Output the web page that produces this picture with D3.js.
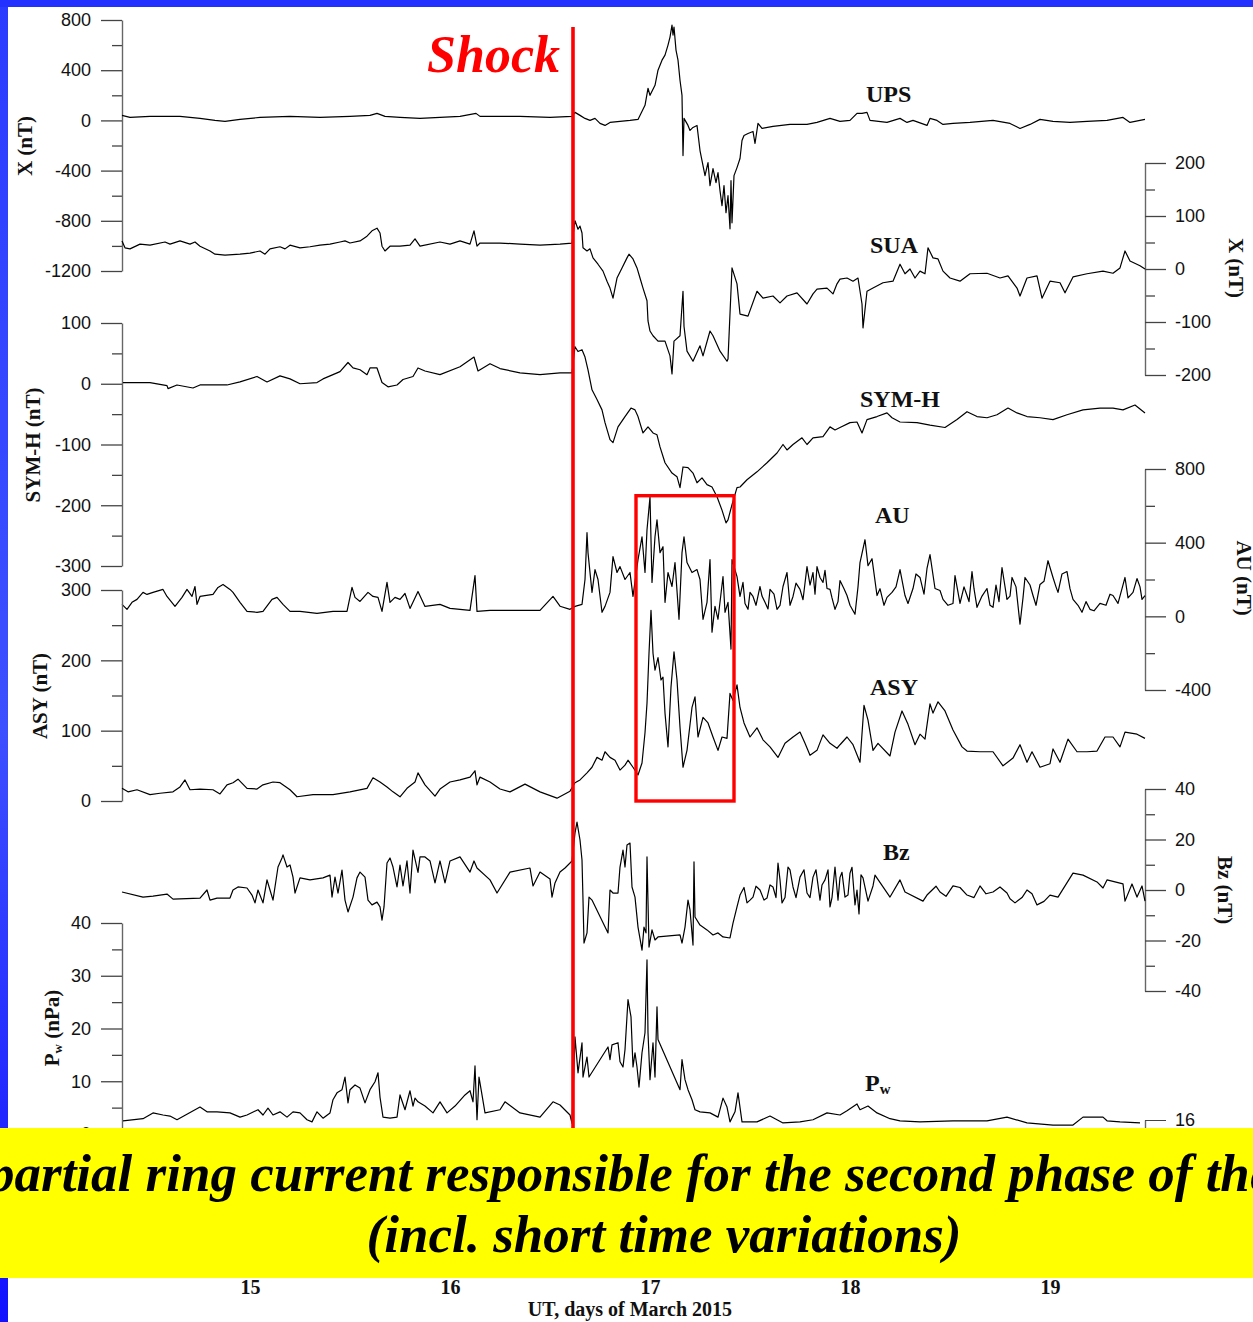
<!DOCTYPE html>
<html>
<head>
<meta charset="utf-8">
<script src="https://cdn.jsdelivr.net/npm/d3@7"></script>
<style>
  body { margin: 0; background: #fff; }
  svg { display: block; }
</style>
</head>
<body>
<svg id="chart" width="1253" height="1322"></svg>
<script>
// days of March 2015 shown on the x axis
const dayTicks = [15, 16, 17, 18, 19];
const shockDay = 16.615;
const boxDays = [16.93, 17.42];

// [day, X nT] ground station UPS
const upsX = [[14.36,40],[14.40,24],[14.50,32],[14.65,32],[14.75,16],[14.825,0],[14.875,-8],[14.95,8],[15.05,24],[15.20,32],[15.35,24],[15.50,32],[15.60,40],[15.635,56],[15.675,32],[15.75,24],[15.85,16],[15.95,24],[16.05,32],[16.13,56],[16.15,32],[16.35,32],[16.50,24],[16.61,32],
  [16.625,64],[16.65,40],[16.675,16],[16.70,0],[16.725,16],[16.75,-24],[16.775,-40],[16.80,-16],[16.85,-8],[16.90,0],[16.94,8],[16.975,120],[16.99,256],[17.00,200],[17.025,280],[17.04,400],[17.06,480],[17.075,520],[17.09,600],[17.10,664],[17.11,760],[17.115,680],[17.12,744],[17.13,560],[17.14,480],[17.15,320],[17.16,200],[17.165,-280],[17.17,16],[17.19,-40],[17.20,-80],[17.215,-56],[17.235,-40],[17.25,-240],[17.265,-360],[17.275,-440],[17.29,-336],[17.30,-520],[17.315,-384],[17.33,-496],[17.34,-416],[17.35,-560],[17.36,-680],[17.37,-520],[17.38,-736],[17.39,-600],[17.40,-864],[17.405,-480],[17.41,-816],[17.42,-440],[17.435,-376],[17.45,-304],[17.46,-160],[17.47,-120],[17.49,-104],[17.515,-88],[17.525,-184],[17.54,-24],[17.56,-64],[17.615,-48],[17.70,-32],[17.785,-32],[17.835,-16],[17.90,16],[17.95,-8],
  [18.00,0],[18.035,56],[18.06,56],[18.085,64],[18.10,0],[18.185,-16],[18.25,16],[18.285,-16],[18.315,0],[18.385,-40],[18.40,16],[18.435,0],[18.465,-32],[18.515,-24],[18.60,-16],[18.715,0],[18.80,-24],[18.85,-64],[18.90,-32],[18.95,8],[19.015,-8],[19.10,-16],[19.185,-8],[19.285,0],[19.365,24],[19.40,-16],[19.45,0],[19.475,8]];

// [day, X nT] ground station SUA (right axis)
const suaX = [[14.36,53],[14.375,40],[14.40,38],[14.45,47],[14.50,45],[14.575,51],[14.60,47],[14.65,53],[14.70,47],[14.725,51],[14.75,43],[14.80,34],[14.825,28],[14.875,26],[14.95,28],[15.00,30],[15.05,34],[15.075,28],[15.10,38],[15.15,42],[15.175,38],[15.20,45],[15.25,40],[15.30,42],[15.35,45],[15.40,47],[15.45,51],[15.475,53],[15.50,49],[15.55,53],[15.585,62],[15.61,72],[15.635,77],[15.65,68],[15.66,43],[15.675,34],[15.70,43],[15.75,43],[15.80,45],[15.825,57],[15.85,43],[15.95,51],[16.00,47],[16.05,53],[16.10,47],[16.12,72],[16.135,43],[16.15,49],[16.25,49],[16.35,47],[16.45,45],[16.55,47],[16.61,49],
  [16.625,91],[16.64,75],[16.65,81],[16.66,68],[16.665,40],[16.685,34],[16.70,38],[16.715,21],[16.74,9],[16.765,-4],[16.785,-23],[16.80,-36],[16.815,-55],[16.835,-17],[16.86,2],[16.885,21],[16.895,28],[16.915,19],[16.935,2],[16.95,-17],[16.965,-36],[16.985,-60],[16.99,-98],[17.00,-117],[17.015,-126],[17.04,-136],[17.075,-136],[17.10,-164],[17.11,-198],[17.12,-136],[17.15,-126],[17.165,-42],[17.17,-108],[17.185,-155],[17.215,-174],[17.25,-145],[17.265,-164],[17.30,-117],[17.315,-126],[17.35,-155],[17.385,-174],[17.39,-170],[17.41,2],[17.435,-28],[17.45,-85],[17.49,-89],[17.535,-42],[17.565,-55],[17.615,-51],[17.65,-64],[17.685,-51],[17.735,-45],[17.785,-66],[17.815,-47],[17.835,-38],[17.885,-36],[17.915,-47],[17.935,-28],[17.95,-19],[17.985,-17],
  [18.015,-23],[18.04,-17],[18.06,-66],[18.065,-111],[18.085,-42],[18.115,-36],[18.165,-26],[18.215,-23],[18.25,9],[18.275,-9],[18.30,0],[18.325,-17],[18.35,-4],[18.375,-9],[18.39,40],[18.415,21],[18.44,19],[18.465,-4],[18.50,-17],[18.55,-23],[18.60,-9],[18.685,-8],[18.75,-17],[18.79,-13],[18.835,-36],[18.85,-51],[18.885,-17],[18.935,-13],[18.96,-55],[19.00,-23],[19.05,-26],[19.075,-45],[19.115,-15],[19.185,-9],[19.265,-4],[19.315,-8],[19.35,2],[19.375,34],[19.40,15],[19.45,6],[19.475,0]];

// [day, SYM-H nT]
const symH = [[14.365,2],[14.50,2],[14.585,-3],[14.59,-8],[14.635,-2],[14.715,-7],[14.75,-2],[14.835,-2],[14.885,-2],[14.95,3],[15.035,12],[15.085,3],[15.15,13],[15.20,8],[15.25,0],[15.335,2],[15.365,8],[15.415,15],[15.45,20],[15.49,35],[15.515,26],[15.55,23],[15.585,15],[15.60,26],[15.635,26],[15.66,2],[15.69,-5],[15.735,-2],[15.765,7],[15.815,12],[15.84,26],[15.875,21],[15.95,15],[16.05,28],[16.12,44],[16.14,21],[16.20,33],[16.25,25],[16.35,18],[16.45,15],[16.55,18],[16.61,18],
  [16.625,61],[16.64,53],[16.66,56],[16.675,44],[16.69,23],[16.71,-10],[16.735,-26],[16.76,-43],[16.775,-64],[16.80,-92],[16.815,-97],[16.84,-71],[16.875,-54],[16.905,-40],[16.925,-43],[16.94,-54],[16.965,-81],[16.99,-71],[17.015,-81],[17.035,-84],[17.05,-104],[17.075,-130],[17.11,-147],[17.135,-153],[17.15,-171],[17.165,-137],[17.19,-138],[17.215,-147],[17.235,-163],[17.26,-155],[17.285,-166],[17.31,-170],[17.335,-186],[17.36,-208],[17.38,-229],[17.39,-224],[17.41,-199],[17.435,-171],[17.45,-170],[17.485,-158],[17.535,-145],[17.585,-130],[17.635,-114],[17.665,-100],[17.685,-109],[17.715,-100],[17.76,-89],[17.785,-100],[17.815,-89],[17.865,-87],[17.90,-71],[17.925,-76],[17.95,-72],
  [18.00,-64],[18.035,-63],[18.06,-81],[18.085,-59],[18.135,-54],[18.185,-48],[18.21,-56],[18.25,-63],[18.335,-64],[18.40,-68],[18.475,-72],[18.535,-59],[18.585,-46],[18.635,-54],[18.685,-56],[18.735,-51],[18.79,-40],[18.835,-48],[18.885,-54],[18.95,-56],[19.015,-59],[19.085,-51],[19.165,-43],[19.25,-40],[19.315,-40],[19.365,-43],[19.425,-35],[19.475,-48]];

// [day, AU nT] (right axis)
const auIdx = [[14.36,65],[14.385,38],[14.41,76],[14.435,92],[14.465,130],[14.485,119],[14.515,130],[14.565,146],[14.585,108],[14.625,54],[14.66,103],[14.685,146],[14.71,108],[14.725,162],[14.735,65],[14.75,108],[14.815,119],[14.84,157],[14.865,173],[14.90,146],[14.915,130],[14.95,76],[14.985,27],[15.035,22],[15.065,27],[15.11,92],[15.135,103],[15.165,65],[15.20,27],[15.25,27],[15.335,16],[15.415,27],[15.485,27],[15.51,157],[15.525,103],[15.55,81],[15.59,130],[15.615,108],[15.64,103],[15.66,27],[15.685,184],[15.70,76],[15.725,103],[15.75,92],[15.775,124],[15.80,43],[15.84,135],[15.875,54],[15.95,65],[16.00,43],[16.10,32],[16.125,221],[16.135,27],[16.20,32],[16.35,32],[16.45,32],[16.515,108],[16.55,55],[16.60,38],
  [16.625,54],[16.66,65],[16.675,200],[16.685,454],[16.69,346],[16.71,130],[16.725,254],[16.74,200],[16.76,22],[16.775,54],[16.80,130],[16.815,324],[16.835,238],[16.85,270],[16.875,200],[16.90,238],[16.915,108],[16.94,308],[16.96,432],[16.975,238],[16.985,470],[17.00,648],[17.01,184],[17.025,432],[17.035,524],[17.05,346],[17.065,378],[17.075,76],[17.09,238],[17.11,162],[17.125,292],[17.145,-16],[17.16,346],[17.17,432],[17.185,292],[17.21,238],[17.235,254],[17.25,200],[17.265,-16],[17.285,76],[17.30,308],[17.31,-86],[17.325,54],[17.34,-16],[17.365,216],[17.375,22],[17.39,76],[17.405,-178],[17.41,308],[17.435,216],[17.45,108],[17.465,184],[17.49,38],[17.515,108],[17.55,162],[17.575,76],[17.60,146],[17.635,38],[17.665,162],[17.685,238],[17.715,108],[17.75,146],[17.785,270],[17.815,238],[17.835,270],[17.85,211],[17.865,184],[17.885,151],[17.90,146],[17.925,38],[17.95,194],[17.985,113],
  [18.025,11],[18.05,292],[18.075,416],[18.09,275],[18.11,313],[18.135,113],[18.185,103],[18.21,130],[18.25,254],[18.275,113],[18.315,151],[18.35,211],[18.40,335],[18.425,151],[18.465,92],[18.515,70],[18.525,221],[18.55,70],[18.585,113],[18.61,243],[18.635,49],[18.685,151],[18.715,49],[18.76,265],[18.785,92],[18.81,211],[18.85,-43],[18.875,211],[18.915,113],[18.95,173],[18.99,302],[19.015,211],[19.04,130],[19.085,243],[19.115,92],[19.16,22],[19.20,38],[19.25,70],[19.315,113],[19.375,211],[19.415,130],[19.435,205],[19.46,92],[19.475,113],
  // fine structure of the noisy recovery interval
  [17.475,70],[17.50,130],[17.53,60],[17.56,110],[17.59,40],[17.62,120],[17.65,60],[17.70,60],[17.73,180],[17.765,90],[17.80,170],[17.825,120],[17.875,250],[17.91,100],[17.94,80],[17.97,150],[18.00,60],[18.04,160],[18.15,150],[18.17,60],[18.23,160],[18.29,70],[18.33,230],[18.37,120],[18.385,260],[18.45,140],[18.49,60],[18.57,160],[18.595,80],[18.62,150],[18.66,110],[18.70,60],[18.73,170],[18.745,80],[18.80,110],[18.83,160],[18.865,100],[18.90,170],[18.93,60],[18.97,190],[19.03,160],[19.06,230],[19.10,150],[19.14,60],[19.18,80],[19.22,30],[19.28,60],[19.30,120],[19.34,70],[19.36,150],[19.39,100],[19.45,160]];

// [day, ASY nT]
const asyIdx = [[14.36,18],[14.39,13],[14.435,16],[14.50,9],[14.55,11],[14.615,13],[14.65,20],[14.675,30],[14.70,16],[14.75,17],[14.815,16],[14.85,10],[14.885,23],[14.915,26],[14.94,31],[14.985,18],[15.035,17],[15.065,23],[15.115,27],[15.15,26],[15.20,16],[15.235,6],[15.315,9],[15.415,9],[15.50,13],[15.585,18],[15.615,33],[15.65,27],[15.685,20],[15.715,13],[15.75,6],[15.785,18],[15.825,27],[15.84,40],[15.875,23],[15.925,7],[15.95,17],[16.00,27],[16.05,30],[16.10,34],[16.125,43],[16.135,23],[16.15,34],[16.20,27],[16.25,17],[16.30,13],[16.375,24],[16.45,13],[16.535,4],[16.60,14],
  [16.625,26],[16.65,30],[16.685,40],[16.71,48],[16.735,62],[16.76,58],[16.775,70],[16.80,62],[16.825,58],[16.85,44],[16.875,51],[16.89,58],[16.915,48],[16.94,37],[16.96,54],[16.975,97],[16.985,139],[16.995,210],[17.005,271],[17.015,210],[17.025,186],[17.04,204],[17.055,172],[17.065,176],[17.075,125],[17.09,77],[17.105,162],[17.12,212],[17.135,172],[17.15,105],[17.165,48],[17.185,72],[17.21,133],[17.225,148],[17.24,91],[17.265,119],[17.29,111],[17.315,91],[17.34,72],[17.36,91],[17.385,89],[17.40,153],[17.415,143],[17.435,165],[17.45,133],[17.47,111],[17.50,91],[17.535,104],[17.565,87],[17.60,77],[17.64,62],[17.675,82],[17.715,91],[17.75,98],[17.775,82],[17.80,65],[17.835,72],[17.865,94],[17.90,82],[17.935,75],[17.95,80],[17.985,91],
  [18.015,80],[18.05,55],[18.07,136],[18.09,115],[18.115,72],[18.14,82],[18.20,64],[18.225,98],[18.26,128],[18.29,109],[18.325,80],[18.35,95],[18.375,88],[18.40,138],[18.415,125],[18.44,141],[18.475,128],[18.515,101],[18.56,77],[18.585,71],[18.65,70],[18.715,70],[18.765,50],[18.815,61],[18.85,80],[18.885,55],[18.91,70],[18.95,48],[19.00,53],[19.015,74],[19.05,55],[19.09,88],[19.135,70],[19.185,70],[19.235,71],[19.275,91],[19.315,91],[19.35,77],[19.375,98],[19.435,95],[19.475,89]];

// [day, IMF Bz nT] (right axis)
const bzIMF = [[14.36,-0.8],[14.465,-2.8],[14.515,-2.4],[14.585,-1.6],[14.615,-3.6],[14.75,-3.2],[14.785,0],[14.80,-4],[14.835,-3.2],[14.90,-3.2],[14.915,0],[14.94,1.2],[14.985,0.8],[15.01,-2],[15.025,-5.1],[15.04,0],[15.065,-5.1],[15.085,4],[15.10,0],[15.115,-4],[15.14,9.1],[15.16,12.7],[15.165,13.9],[15.185,9.1],[15.20,9.9],[15.215,5.1],[15.225,-1.2],[15.25,4.8],[15.30,4],[15.365,4.8],[15.40,5.9],[15.41,-2.8],[15.425,5.1],[15.44,-1.2],[15.46,7.9],[15.475,-4],[15.49,-8.7],[15.515,-2.8],[15.535,4.8],[15.55,7.1],[15.575,5.1],[15.59,-4],[15.61,-5.9],[15.635,-4.8],[15.65,-6.7],[15.66,-11.9],[15.67,-6.7],[15.685,10.7],[15.70,12.7],[15.715,9.1],[15.735,1.2],[15.75,9.9],[15.765,1.6],[15.785,11.5],[15.80,-1.2],[15.815,15.8],[15.84,7],[15.85,13.1],[15.875,13.1],[15.90,11.5],[15.925,2.8],[15.95,11.5],[15.975,2.8],[16.00,11.5],[16.05,13.1],[16.10,7.1],[16.12,11.5],[16.135,8.7],[16.20,4],[16.235,-1.2],[16.30,7.1],[16.40,8.7],[16.415,1.6],[16.45,7.1],[16.50,4.4],[16.51,-2.8],[16.525,2.8],[16.55,7.1],[16.575,8.7],[16.61,11.5],
  [16.625,22.6],[16.635,26.9],[16.65,19.8],[16.66,11.9],[16.665,-4],[16.67,-21],[16.685,-17],[16.695,-2.8],[16.71,-4],[16.79,-17],[16.80,0],[16.815,-1.2],[16.84,-1.2],[16.85,9.1],[16.865,15.8],[16.875,9.1],[16.885,17.8],[16.90,18.6],[16.91,1.2],[16.925,-2.8],[16.94,-14.7],[16.96,-23.8],[16.97,-14.7],[16.98,-17],[16.985,13.1],[16.995,-22.6],[17.01,-15.8],[17.025,-19.8],[17.04,-18.6],[17.15,-17.8],[17.16,-21],[17.175,-14.7],[17.19,-4],[17.20,-7.9],[17.215,-21.8],[17.22,11.1],[17.225,-10.7],[17.25,-13.9],[17.285,-15.8],[17.315,-17.8],[17.34,-17],[17.365,-18.6],[17.40,-19],[17.415,-13.1],[17.435,-6.7],[17.45,-2],[17.485,-5.1],[17.515,-2.8],[17.55,0],[17.585,-3.2],[17.615,1.2],[17.64,10.7],[17.66,-5.1],[17.69,9.1],[17.715,1.2],[17.75,5.1],[17.785,-1.2],[17.815,5.1],[17.85,-4],[17.875,4],[17.90,-6.7],[17.925,9.1],[17.95,5],[17.975,-2.8],
  [18.00,6.7],[18.025,-5.9],[18.045,-9.5],[18.065,4.8],[18.09,-4.4],[18.115,1.6],[18.125,5.9],[18.20,-2.8],[18.25,4],[18.275,-0.8],[18.365,-4.4],[18.385,-2],[18.45,-0.8],[18.515,1.6],[18.585,-2],[18.65,1.6],[18.715,-0.8],[18.785,-1.2],[18.825,-5.1],[18.885,0],[18.935,-5.9],[19.00,-2],[19.04,-2.8],[19.115,6.7],[19.165,5.9],[19.235,3.2],[19.265,0.8],[19.285,4],[19.365,2.4],[19.375,-4.4],[19.41,2.4],[19.435,-2.8],[19.46,1.6],[19.475,-4.4],
  // fine structure after the storm main phase
  [17.47,1],[17.50,-4],[17.53,1.5],[17.57,-4],[17.60,2],[17.63,-3],[17.65,4],[17.675,-3],[17.70,8],[17.73,-3],[17.77,8],[17.80,-3],[17.83,8],[17.86,2],[17.89,8],[17.91,-3],[17.94,-4],[17.96,7],[17.99,-2],[18.01,9],[18.035,0],[18.055,6],[18.43,1.5],[18.48,-2.5],[18.55,1],[18.62,-3],[18.68,-1.5],[18.75,1.2],[18.80,-3.5],[18.86,-3],[18.91,-1.5],[18.97,-4.5]];

// [day, solar wind dynamic pressure nPa]
const pwSW = [[14.365,2.5],[14.465,2.9],[14.515,4.0],[14.565,3.6],[14.60,3.4],[14.635,2.7],[14.75,5.1],[14.785,4.2],[14.835,4.2],[14.90,4.0],[14.95,3.2],[14.985,3.6],[15.04,4.6],[15.065,3.6],[15.09,4.9],[15.115,3.6],[15.15,4.2],[15.185,3.2],[15.215,4.2],[15.25,4.0],[15.285,2.7],[15.31,2.3],[15.335,4.2],[15.365,3.0],[15.40,4.0],[15.415,6.5],[15.435,7.8],[15.46,8.4],[15.475,10.8],[15.49,5.9],[15.50,8.4],[15.525,9.3],[15.55,8.7],[15.575,5.9],[15.60,8.4],[15.625,9.9],[15.64,11.6],[15.65,7.0],[15.665,3.2],[15.70,3.0],[15.735,3.2],[15.75,7.4],[15.775,4.6],[15.80,8.2],[15.815,5.3],[15.825,6.8],[15.84,6.1],[15.875,5.3],[15.915,4.0],[15.95,6.1],[15.985,4.0],[16.025,5.3],[16.075,7.4],[16.10,8.2],[16.115,6.1],[16.125,12.9],[16.135,2.7],[16.145,10.8],[16.16,7.4],[16.175,4.0],[16.25,4.6],[16.275,6.1],[16.35,4.0],[16.45,3.2],[16.515,6.1],[16.55,5.5],[16.60,3.6],[16.61,2.0],
  [16.625,18.4],[16.64,11.6],[16.66,17.3],[16.665,10.8],[16.685,14.6],[16.695,10.8],[16.79,16.5],[16.80,14.1],[16.81,16.9],[16.84,17.3],[16.85,13.7],[16.865,12.7],[16.875,16.0],[16.89,25.5],[16.905,22.2],[16.915,12.7],[16.925,15.4],[16.935,12.7],[16.945,8.9],[16.96,15.4],[16.975,19.2],[16.985,33.0],[16.99,19.2],[17.00,10.3],[17.015,17.3],[17.025,10.8],[17.035,24.1],[17.04,17.9],[17.15,8.4],[17.16,14.1],[17.175,10.3],[17.19,8.4],[17.21,6.5],[17.225,4.6],[17.25,4.2],[17.30,4.0],[17.34,3.2],[17.365,6.8],[17.385,5.1],[17.40,2.3],[17.425,4.2],[17.44,7.8],[17.46,2.3],[17.535,2.3],[17.60,3.4],[17.665,2.1],[17.75,2.3],[17.815,2.7],[17.885,4.0],[17.95,3.6],[17.985,4.4],
  [18.035,5.7],[18.05,4.6],[18.09,5.3],[18.135,4.0],[18.20,2.9],[18.25,2.5],[18.35,2.3],[18.515,2.5],[18.685,2.5],[18.785,3.2],[18.885,2.1],[19.015,1.7],[19.115,1.7],[19.165,3.2],[19.265,3.2],[19.285,2.5],[19.35,2.3],[19.45,2.1]];

const W = 1253, H = 1322;
const svg = d3.select('#chart');
const serif = '"Liberation Serif", "Times New Roman", serif';
const sans = '"Liberation Sans", Arial, sans-serif';
const plain = d => String(d);   // hyphen minus, no thousands comma

// slide frame
const defs = svg.append('defs');
const grad = defs.append('linearGradient').attr('id', 'side').attr('x1', 0).attr('y1', 0).attr('x2', 0).attr('y2', 1);
grad.append('stop').attr('offset', '0%').attr('stop-color', '#2b3cff');
grad.append('stop').attr('offset', '55%').attr('stop-color', '#3d50ff');
grad.append('stop').attr('offset', '100%').attr('stop-color', '#1212ff');
svg.append('rect').attr('width', W).attr('height', H).attr('fill', '#fff');
svg.append('rect').attr('x', 0).attr('y', 0).attr('width', 8).attr('height', H).attr('fill', 'url(#side)');
svg.append('rect').attr('x', 0).attr('y', 0).attr('width', W).attr('height', 7).attr('fill', '#2231ff');

const x = d3.scaleLinear().domain([14.36, 19.475]).range([122, 1145]);

// each trace with its own y axis
const panels = [
  { data: upsX, side: 'left', domain: [-1200, 800], range: [271, 20], step: 400, minor: 200,
    title: 'X (nT)', tx: 25, ty: 146, label: 'UPS', lx: 866, ly: 102 },
  { data: suaX, side: 'right', domain: [-200, 200], range: [375, 163], step: 100, minor: 50,
    title: 'X (nT)', tx: 1236, ty: 268, label: 'SUA', lx: 870, ly: 253 },
  { data: symH, side: 'left', domain: [-300, 100], range: [566, 323], step: 100, minor: 50,
    title: 'SYM-H (nT)', tx: 33, ty: 445, label: 'SYM-H', lx: 860, ly: 407 },
  { data: auIdx, side: 'right', domain: [-400, 800], range: [690, 469], step: 400, minor: 200,
    title: 'AU (nT)', tx: 1244, ty: 578, label: 'AU', lx: 875, ly: 523 },
  { data: asyIdx, side: 'left', domain: [0, 300], range: [801, 590], step: 100, minor: 50,
    title: 'ASY (nT)', tx: 40, ty: 696, label: 'ASY', lx: 870, ly: 695 },
  { data: bzIMF, side: 'right', domain: [-40, 40], range: [991, 789], step: 20, minor: 10,
    title: 'Bz (nT)', tx: 1225, ty: 890, label: 'Bz', lx: 883, ly: 860 },
  { data: pwSW, side: 'left', domain: [0, 40], range: [1134, 923], step: 10, minor: 5,
    title: 'P|w| (nPa)', tx: 52, ty: 1028, label: 'P|w', lx: 865, ly: 1091 }
];

function richText(sel, str, size) {
  // "P|w|..." means P with a subscript w
  const parts = str.split('|');
  parts.forEach((p, i) => {
    if (p === '') return;
    const t = sel.append('tspan').text(p);
    if (i === 1) t.attr('font-size', size * 0.62).attr('dy', size * 0.12);
    if (i === 2) t.attr('font-size', size).attr('dy', -size * 0.12);
  });
}

panels.forEach(p => {
  const y = d3.scaleLinear().domain(p.domain).range(p.range);
  const ax = p.side === 'left' ? 122 : 1145;
  const major = d3.range(p.domain[0], p.domain[1] + 1e-9, p.step);
  const minor = d3.range(p.domain[0], p.domain[1] + 1e-9, p.minor).filter(v => !major.includes(v));
  const mk = p.side === 'left' ? d3.axisLeft : d3.axisRight;

  const gMinor = svg.append('g').attr('transform', `translate(${ax},0)`)
    .call(mk(y).tickValues(minor).tickSize(10).tickSizeOuter(0).tickFormat(''));
  gMinor.select('.domain').remove();
  const g = svg.append('g').attr('transform', `translate(${ax},0)`)
    .call(mk(y).tickValues(major).tickSize(21).tickSizeOuter(0).tickFormat(plain)
      .tickPadding(p.side === 'left' ? 10 : 9));
  g.select('.domain').attr('stroke', '#666').attr('stroke-width', 1.4);
  g.selectAll('.tick line').attr('stroke', '#444').attr('stroke-width', 1.3);
  gMinor.selectAll('.tick line').attr('stroke', '#444').attr('stroke-width', 1.3);
  g.selectAll('.tick text').attr('font-family', sans).attr('font-size', 18).attr('fill', '#111');

  const tt = svg.append('text')
    .attr('transform', `translate(${p.tx},${p.ty}) rotate(${p.side === 'left' ? -90 : 90})`)
    .attr('text-anchor', 'middle').attr('dy', '0.35em')
    .attr('font-family', serif).attr('font-weight', 'bold').attr('font-size', 21).attr('fill', '#111');
  richText(tt, p.title, 21);

  const line = d3.line().x(d => x(d[0])).y(d => y(d[1]));
  svg.append('path').datum(d3.sort(p.data, d => d[0])).attr('d', line)
    .attr('fill', 'none').attr('stroke', '#000').attr('stroke-width', 1.2).attr('stroke-linejoin', 'round');

  const lt = svg.append('text').attr('x', p.lx).attr('y', p.ly)
    .attr('font-family', serif).attr('font-weight', 'bold').attr('font-size', 24).attr('fill', '#111');
  richText(lt, p.label, 24);
});

// partially hidden lowest axis on the right
const yLow = d3.scaleLinear().domain([12, 16]).range([1220, 1120]);
const gLow = svg.append('g').attr('transform', 'translate(1145,0)')
  .call(d3.axisRight(yLow).tickValues([16]).tickSize(21).tickSizeOuter(0).tickPadding(9).tickFormat(plain));
gLow.select('.domain').attr('stroke', '#666').attr('stroke-width', 1.4);
gLow.selectAll('.tick line').attr('stroke', '#444');
gLow.selectAll('.tick text').attr('font-family', sans).attr('font-size', 18).attr('fill', '#111');

// shock onset and highlighted interval
const yAsy = d3.scaleLinear().domain([0, 300]).range([801, 590]);
const yAu = d3.scaleLinear().domain([-400, 800]).range([690, 469]);
svg.append('line').attr('x1', x(shockDay)).attr('x2', x(shockDay)).attr('y1', 27).attr('y2', 1200)
  .attr('stroke', '#ff0000').attr('stroke-width', 3.6);
svg.append('text').attr('x', x(shockDay) - 13).attr('y', 72).attr('text-anchor', 'end')
  .attr('font-family', serif).attr('font-weight', 'bold').attr('font-style', 'italic')
  .attr('font-size', 52).attr('fill', '#ff0000').text('Shock');
svg.append('rect').attr('x', x(boxDays[0])).attr('y', yAu(655))
  .attr('width', x(boxDays[1]) - x(boxDays[0])).attr('height', yAsy(0) - yAu(655))
  .attr('fill', 'none').attr('stroke', '#ff0000').attr('stroke-width', 3.4);

// yellow caption band
svg.append('rect').attr('x', 0).attr('y', 1128).attr('width', W).attr('height', 150).attr('fill', '#ffff00');
svg.append('text').attr('x', -12).attr('y', 1191)
  .attr('font-family', serif).attr('font-weight', 'bold').attr('font-style', 'italic')
  .attr('font-size', 53).attr('fill', '#000')
  .text('partial ring current responsible for the second phase of the storm');
svg.append('text').attr('x', 664).attr('y', 1252).attr('text-anchor', 'middle')
  .attr('font-family', serif).attr('font-weight', 'bold').attr('font-style', 'italic')
  .attr('font-size', 53).attr('fill', '#000')
  .text('(incl. short time variations)');

// day axis below the band
const gx = svg.append('g').attr('transform', 'translate(0,1278)')
  .call(d3.axisBottom(x).tickValues(dayTicks).tickSize(0).tickPadding(2).tickFormat(plain));
gx.select('.domain').remove();
gx.selectAll('.tick text').attr('font-family', serif).attr('font-weight', 'bold').attr('font-size', 20).attr('fill', '#111');
svg.append('text').attr('x', 630).attr('y', 1316).attr('text-anchor', 'middle')
  .attr('font-family', serif).attr('font-weight', 'bold').attr('font-size', 20).attr('fill', '#111')
  .text('UT, days of March 2015');
</script>
</body>
</html>
